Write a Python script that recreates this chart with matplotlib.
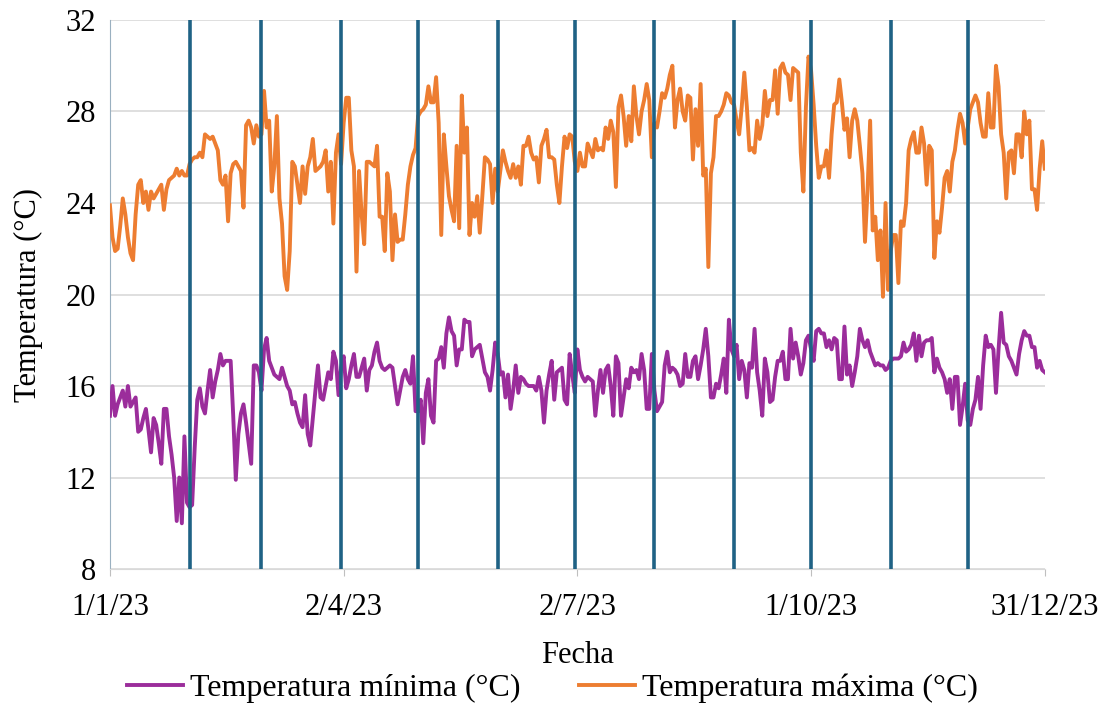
'''
    Temperaturas diarias 2023: minima y maxima con separadores de mes
'''
import datetime as dt
import matplotlib
matplotlib.use('Agg')
import matplotlib.pyplot as plt

# daily maxima, one list per month
tmax_months = [
    [23.9, 22.5, 21.9, 22.0, 23.0, 24.2, 23.5, 22.5, 21.8, 21.5, 23.5, 24.8, 25.0, 24.0, 24.5, 23.7,
     24.5, 24.2, 24.4, 24.6, 24.8, 23.7, 24.6, 25.0, 25.1, 25.2, 25.5, 25.2, 25.4, 25.2, 25.2],
    [25.7, 25.9, 26.0, 26.0, 26.2, 26.0, 27.0, 26.9, 26.8, 26.9, 26.6, 26.3, 25.0, 24.8, 25.2, 23.2,
     25.3, 25.7, 25.8, 25.6, 25.4, 23.8, 27.4, 27.6, 27.3, 26.6, 27.4, 26.9],
    [27.0, 28.9, 27.3, 27.6, 24.5, 25.6, 27.8, 24.2, 23.1, 20.8, 20.2, 21.9, 25.8, 25.6, 24.8, 24.0,
     25.6, 24.4, 25.6, 26.0, 26.8, 25.4, 25.5, 25.6, 25.8, 26.3, 24.5, 25.8, 23.1, 26.2, 27.0],
    [25.7, 27.5, 28.6, 28.6, 26.3, 25.6, 21.0, 25.4, 23.5, 22.2, 25.8, 25.8, 25.7, 25.6, 26.5, 23.4,
     23.4, 21.9, 25.3, 24.5, 21.5, 23.5, 22.3, 22.4, 22.4, 23.5, 24.8, 25.6, 26.1, 26.4],
    [27.8, 28.0, 28.1, 28.3, 29.1, 28.4, 28.4, 29.5, 27.5, 22.6, 27.0, 25.6, 24.3, 23.7, 23.2, 26.5,
     22.9, 28.7, 26.2, 27.3, 22.6, 24.0, 23.4, 24.3, 22.7, 24.3, 26.0, 25.9, 25.7, 24.0, 25.5],
    [24.5, 25.4, 26.3, 25.8, 25.4, 25.1, 25.7, 25.1, 25.6, 24.8, 26.5, 26.5, 26.9, 26.2, 25.9, 26.0,
     24.9, 26.5, 26.8, 27.2, 26.0, 26.0, 25.9, 24.8, 24.0, 25.6, 26.9, 26.4, 27.0, 26.9],
    [25.8, 25.4, 26.2, 25.6, 25.6, 26.6, 26.3, 26.0, 26.8, 26.3, 26.4, 26.3, 27.3, 26.8, 27.6, 27.1,
     24.7, 28.2, 28.7, 27.8, 26.5, 27.8, 26.7, 29.1, 27.8, 27.0, 28.0, 28.5, 29.2, 28.5, 26.0],
    [27.5, 27.3, 28.0, 28.8, 28.6, 29.0, 29.6, 30.0, 27.3, 28.5, 29.0, 28.0, 27.6, 28.7, 28.6, 25.9,
     28.1, 26.5, 29.2, 25.2, 25.5, 21.2, 25.3, 26.0, 27.8, 27.8, 28.0, 28.3, 28.8, 28.7, 28.4],
    [28.3, 27.6, 27.0, 28.2, 29.7, 28.2, 26.3, 26.4, 26.2, 27.6, 26.8, 27.4, 28.9, 27.8, 28.5, 28.5,
     29.8, 27.9, 29.9, 30.1, 29.7, 29.6, 28.5, 29.9, 29.8, 29.7, 26.2, 24.5, 28.2, 30.4],
    [29.8, 28.3, 26.5, 25.1, 25.6, 25.6, 26.3, 25.1, 27.0, 28.3, 28.4, 29.4, 28.4, 27.2, 27.7, 26.0,
     27.6, 28.1, 27.6, 26.5, 25.3, 22.3, 24.6, 27.6, 22.8, 23.4, 21.5, 22.8, 19.9, 24.0, 20.2],
    [21.9, 22.6, 22.6, 20.5, 23.2, 23.0, 24.0, 26.3, 26.8, 27.1, 26.2, 26.2, 27.3, 26.6, 24.8, 26.5,
     26.3, 21.6, 23.2, 22.7, 23.8, 25.1, 25.4, 24.5, 25.8, 26.3, 27.2, 27.9, 27.5, 26.6],
    [27.3, 28.1, 28.4, 28.7, 28.4, 27.5, 26.9, 26.9, 28.8, 27.3, 27.3, 30.0, 29.1, 27.0, 26.2, 24.2,
     26.2, 26.3, 25.3, 27.0, 27.0, 26.0, 28.0, 27.0, 27.6, 24.6, 24.6, 23.7, 25.5, 26.7, 25.5],
]

# daily minima, one list per month
tmin_months = [
    [14.7, 16.0, 14.7, 15.2, 15.5, 15.8, 15.1, 16.0, 15.1, 15.3, 15.5, 14.0, 14.1, 14.6, 15.0, 14.1,
     13.1, 14.6, 14.3, 13.5, 12.6, 15.0, 15.0, 13.8, 13.0, 12.0, 10.1, 12.0, 10.0, 13.8, 10.9],
    [10.7, 10.8, 13.3, 15.4, 15.9, 15.1, 14.8, 15.8, 16.7, 15.5, 16.2, 16.7, 17.4, 16.9, 17.1, 17.1,
     17.1, 14.7, 11.9, 13.9, 14.8, 15.2, 14.4, 13.5, 12.6, 16.9, 16.9, 16.6],
    [15.8, 17.6, 18.1, 17.1, 16.8, 16.5, 16.4, 16.3, 16.8, 16.4, 16.0, 15.8, 15.2, 15.3, 14.8, 14.4,
     14.2, 15.6, 13.9, 13.4, 14.6, 15.8, 16.9, 15.5, 15.4, 16.0, 16.6, 16.3, 17.5, 17.1, 15.6],
    [16.8, 17.3, 15.9, 16.3, 16.9, 17.4, 16.4, 16.4, 16.8, 17.2, 15.8, 16.7, 16.9, 17.5, 17.9, 17.1,
     16.8, 16.7, 16.8, 16.9, 16.8, 16.0, 15.2, 15.8, 16.4, 16.7, 16.3, 16.1, 17.3, 14.9],
    [14.9, 15.4, 13.5, 15.7, 16.3, 14.7, 14.4, 17.1, 17.2, 17.7, 16.8, 18.3, 19.0, 18.4, 18.2, 16.9,
     17.6, 17.6, 18.9, 18.8, 18.8, 17.3, 17.6, 17.7, 17.8, 17.2, 16.6, 16.4, 15.8, 16.7, 17.9],
    [17.4, 16.5, 16.6, 15.5, 16.5, 15.0, 15.8, 16.9, 15.7, 16.4, 16.3, 16.1, 16.0, 16.0, 16.0, 15.8,
     16.4, 15.8, 14.4, 15.8, 16.5, 17.1, 15.4, 16.6, 16.7, 16.8, 15.4, 15.2, 17.4, 16.5],
    [15.7, 17.6, 16.7, 16.4, 16.2, 16.4, 16.3, 16.2, 14.7, 15.8, 16.7, 15.7, 16.7, 16.9, 16.0, 14.7,
     17.3, 17.0, 14.7, 15.5, 16.3, 15.9, 16.8, 16.6, 16.7, 16.3, 17.4, 16.7, 15.0, 15.0, 17.4],
    [15.8, 14.9, 15.1, 15.3, 16.9, 17.5, 16.6, 16.8, 16.7, 16.5, 16.0, 16.1, 17.4, 16.4, 16.4, 17.1,
     17.3, 16.3, 16.9, 17.6, 18.5, 17.3, 15.5, 15.5, 16.1, 15.9, 16.5, 17.2, 15.7, 18.9, 17.6],
    [17.3, 17.8, 16.3, 17.1, 16.7, 15.5, 17.0, 16.8, 18.5, 16.6, 15.8, 14.7, 17.2, 16.6, 15.3, 15.4,
     16.4, 17.1, 17.1, 17.5, 16.3, 16.3, 18.5, 17.2, 17.9, 17.3, 16.5, 17.0, 18.0, 18.2],
    [17.6, 17.1, 18.4, 18.5, 18.3, 18.3, 17.7, 18.0, 17.6, 18.1, 18.0, 16.3, 16.3, 18.6, 16.5, 16.9,
     16.0, 16.6, 17.3, 18.5, 18.0, 17.7, 18.0, 17.5, 17.2, 16.9, 17.0, 16.9, 16.9, 16.7, 16.8],
    [17.1, 17.2, 17.2, 17.2, 17.3, 17.9, 17.5, 17.6, 17.8, 18.3, 17.1, 18.2, 17.3, 17.9, 18.0, 18.0,
     18.1, 16.6, 17.2, 16.8, 16.6, 16.3, 15.7, 16.3, 15.0, 16.4, 16.4, 14.3, 15.1, 16.1],
    [14.5, 14.3, 15.0, 15.4, 16.4, 15.0, 16.9, 18.2, 17.7, 17.8, 17.6, 15.7, 17.6, 19.2, 17.9, 17.8,
     17.3, 17.1, 16.8, 16.5, 17.4, 18.0, 18.4, 18.2, 18.2, 17.7, 17.7, 16.8, 17.1, 16.7, 16.6],
]

tmax = [v for m in tmax_months for v in m]
tmin = [v for m in tmin_months for v in m]
assert len(tmax) == 365 and len(tmin) == 365, (len(tmax), len(tmin))

start = dt.date(2023, 1, 1)
fechas = [start + dt.timedelta(days=i) for i in range(365)]

# first day of each month from February on: vertical separators
month_starts = [dt.date(2023, m, 1) for m in range(2, 13)]

tick_dates = [dt.date(2023, 1, 1), dt.date(2023, 4, 2), dt.date(2023, 7, 2),
              dt.date(2023, 10, 1), dt.date(2023, 12, 31)]
tick_labels = ['1/1/23', '2/4/23', '2/7/23', '1/10/23', '31/12/23']

plt.rcParams['font.family'] = ['Liberation Serif', 'DejaVu Serif']
FS = 22

fig = plt.figure(figsize=(11.05, 7.06), dpi=100)
ax = fig.add_axes([0.0995, 0.194, 0.846, 0.7777])

ax.plot(fechas, tmin, color='#9B2D9B', linewidth=2.8, label='Temperatura mínima (°C)', zorder=3)
ax.plot(fechas, tmax, color='#ED7D31', linewidth=2.8, label='Temperatura máxima (°C)', zorder=3)
ax.vlines(month_starts, 8, 32, color='#1F6285', linewidth=2.6, zorder=4)

ax.set_ylim(8, 32)
ax.set_yticks(range(8, 33, 4))
ax.set_xlim(fechas[0], fechas[-1])
ax.set_xticks(tick_dates)
ax.set_xticklabels(tick_labels)

ax.grid(axis='y', color='#D9D9D9', linewidth=1.2, zorder=0)
for s in ['top', 'right']:
    ax.spines[s].set_visible(False)
ax.spines['left'].set_color('#9AB0C0')
ax.spines['bottom'].set_color('#D9D9D9')
ax.tick_params(axis='y', length=0, labelsize=FS, pad=10)
ax.tick_params(axis='x', length=5, color='#BFBFBF', labelsize=FS, pad=12)

ax.set_xlabel('Fecha', fontsize=FS, labelpad=14)
ax.set_ylabel('Temperatura (°C)', fontsize=FS, labelpad=16)

fig.legend(loc='center', bbox_to_anchor=(0.5, 0.0255), ncol=2, frameon=False,
           fontsize=23, handlelength=1.75, handletextpad=0.2, columnspacing=1.85)

fig.savefig('out.png', dpi=100)
